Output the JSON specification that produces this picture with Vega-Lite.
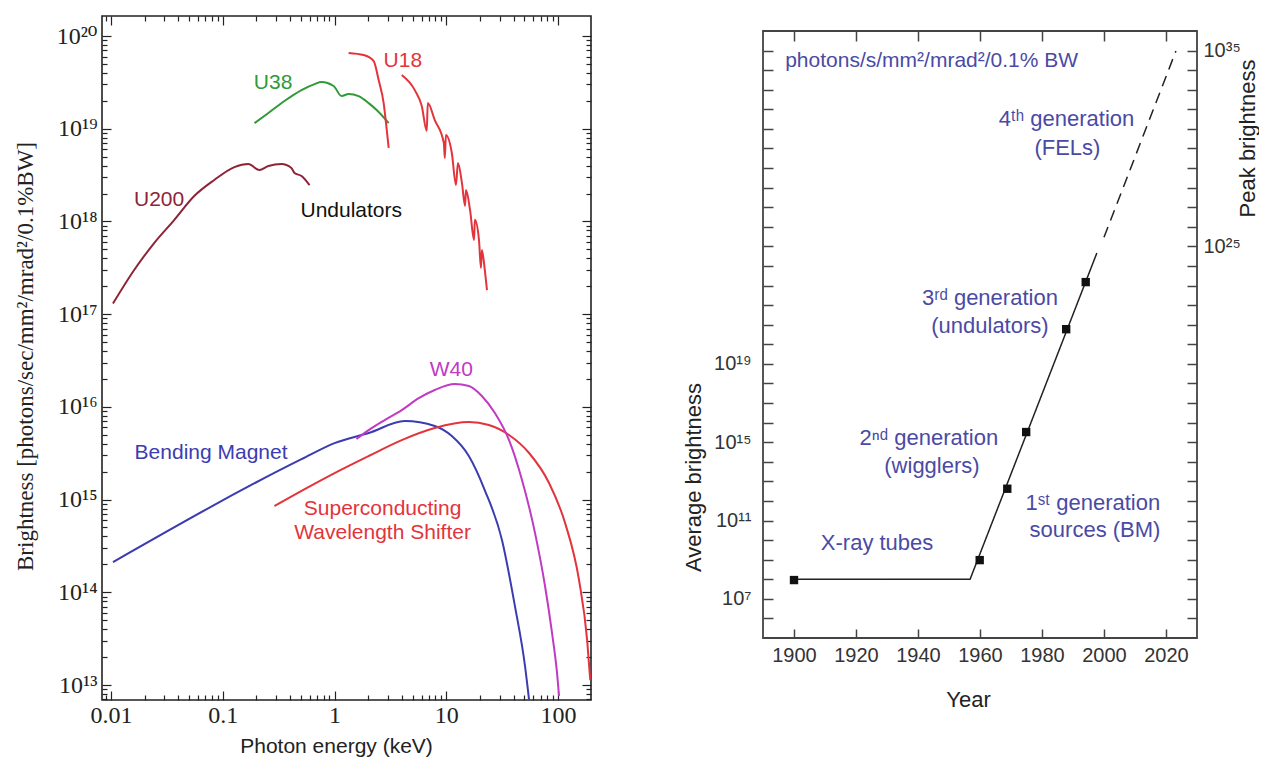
{
  "$schema": "https://vega.github.io/schema/vega-lite/v6.json",
  "background": "white",
  "padding": {"left": 13, "top": 13, "right": 0, "bottom": 0},
  "spacing": 88,
  "datasets": {
    "curves": [
      {"i": 1, "s": "U200", "seg": "U200", "E": 0.0104, "B": 1.3e17},
      {"i": 2, "s": "U200", "seg": "U200", "E": 0.0161, "B": 2.99e17},
      {"i": 3, "s": "U200", "seg": "U200", "E": 0.0243, "B": 5.85e17},
      {"i": 4, "s": "U200", "seg": "U200", "E": 0.0367, "B": 1.035e18},
      {"i": 5, "s": "U200", "seg": "U200", "E": 0.0555, "B": 1.88e18},
      {"i": 6, "s": "U200", "seg": "U200", "E": 0.0839, "B": 2.8e18},
      {"i": 7, "s": "U200", "seg": "U200", "E": 0.127, "B": 3.86e18},
      {"i": 8, "s": "U200", "seg": "U200", "E": 0.169, "B": 4.16e18},
      {"i": 9, "s": "U200", "seg": "U200", "E": 0.2125, "B": 3.58e18},
      {"i": 10, "s": "U200", "seg": "U200", "E": 0.256, "B": 3.96e18},
      {"i": 11, "s": "U200", "seg": "U200", "E": 0.335, "B": 4.16e18},
      {"i": 12, "s": "U200", "seg": "U200", "E": 0.411, "B": 3.77e18},
      {"i": 13, "s": "U200", "seg": "U200", "E": 0.438, "B": 3.33e18},
      {"i": 14, "s": "U200", "seg": "U200", "E": 0.506, "B": 3.09e18},
      {"i": 15, "s": "U200", "seg": "U200", "E": 0.597, "B": 2.47e18},
      {"i": 16, "s": "U38", "seg": "U38", "E": 0.192, "B": 1.15e19},
      {"i": 17, "s": "U38", "seg": "U38", "E": 0.256, "B": 1.48e19},
      {"i": 18, "s": "U38", "seg": "U38", "E": 0.356, "B": 1.99e19},
      {"i": 19, "s": "U38", "seg": "U38", "E": 0.506, "B": 2.61e19},
      {"i": 20, "s": "U38", "seg": "U38", "E": 0.662, "B": 3.03e19},
      {"i": 21, "s": "U38", "seg": "U38", "E": 0.764, "B": 3.19e19},
      {"i": 22, "s": "U38", "seg": "U38", "E": 0.98, "B": 2.89e19},
      {"i": 23, "s": "U38", "seg": "U38", "E": 1.156, "B": 2.25e19},
      {"i": 24, "s": "U38", "seg": "U38", "E": 1.335, "B": 2.37e19},
      {"i": 25, "s": "U38", "seg": "U38", "E": 1.64, "B": 2.25e19},
      {"i": 26, "s": "U38", "seg": "U38", "E": 2.02, "B": 1.89e19},
      {"i": 27, "s": "U38", "seg": "U38", "E": 2.38, "B": 1.59e19},
      {"i": 28, "s": "U38", "seg": "U38", "E": 3.05, "B": 1.15e19},
      {"i": 29, "s": "U18", "seg": "U18a", "E": 1.335, "B": 6.57e19},
      {"i": 30, "s": "U18", "seg": "U18a", "E": 1.82, "B": 6.24e19},
      {"i": 31, "s": "U18", "seg": "U18a", "E": 2.24, "B": 5.37e19},
      {"i": 32, "s": "U18", "seg": "U18a", "E": 2.48, "B": 3.35e19},
      {"i": 33, "s": "U18", "seg": "U18a", "E": 2.75, "B": 1.89e19},
      {"i": 34, "s": "U18", "seg": "U18a", "E": 2.93, "B": 9.7e18},
      {"i": 35, "s": "U18", "seg": "U18a", "E": 3.05, "B": 6.2e18},
      {"i": 36, "s": "U18", "seg": "U18b", "E": 3.99, "B": 3.79e19},
      {"i": 37, "s": "U18", "seg": "U18b", "E": 5.22, "B": 2.61e19},
      {"i": 38, "s": "U18", "seg": "U18b", "E": 6.03, "B": 1.76e19},
      {"i": 39, "s": "U18", "seg": "U18b", "E": 6.68, "B": 9.45e18},
      {"i": 40, "s": "U18", "seg": "U18b", "E": 6.82, "B": 1.89e19},
      {"i": 41, "s": "U18", "seg": "U18b", "E": 7.88, "B": 1.24e19},
      {"i": 42, "s": "U18", "seg": "U18b", "E": 9.5, "B": 7.01e18},
      {"i": 43, "s": "U18", "seg": "U18b", "E": 9.7, "B": 4.83e18},
      {"i": 44, "s": "U18", "seg": "U18b", "E": 9.91, "B": 8.55e18},
      {"i": 45, "s": "U18", "seg": "U18b", "E": 11.2, "B": 5.47e18},
      {"i": 46, "s": "U18", "seg": "U18b", "E": 12.2, "B": 2.47e18},
      {"i": 47, "s": "U18", "seg": "U18b", "E": 12.7, "B": 4.27e18},
      {"i": 48, "s": "U18", "seg": "U18b", "E": 13.8, "B": 2.59e18},
      {"i": 49, "s": "U18", "seg": "U18b", "E": 14.7, "B": 1.47e18},
      {"i": 50, "s": "U18", "seg": "U18b", "E": 15.0, "B": 2.18e18},
      {"i": 51, "s": "U18", "seg": "U18b", "E": 16.3, "B": 1.33e18},
      {"i": 52, "s": "U18", "seg": "U18b", "E": 17.7, "B": 6.3e17},
      {"i": 53, "s": "U18", "seg": "U18b", "E": 18.0, "B": 1.04e18},
      {"i": 54, "s": "U18", "seg": "U18b", "E": 19.6, "B": 6.3e17},
      {"i": 55, "s": "U18", "seg": "U18b", "E": 20.4, "B": 3.14e17},
      {"i": 56, "s": "U18", "seg": "U18b", "E": 20.8, "B": 4.91e17},
      {"i": 57, "s": "U18", "seg": "U18b", "E": 22.1, "B": 2.99e17},
      {"i": 58, "s": "U18", "seg": "U18b", "E": 23.1, "B": 1.82e17},
      {"i": 59, "s": "BM", "seg": "BM", "E": 0.0104, "B": 2.12e14},
      {"i": 60, "s": "BM", "seg": "BM", "E": 0.506, "B": 2.73e15},
      {"i": 61, "s": "BM", "seg": "BM", "E": 1.0, "B": 4.07e15},
      {"i": 62, "s": "BM", "seg": "BM", "E": 2.02, "B": 5.22e15},
      {"i": 63, "s": "BM", "seg": "BM", "E": 4.25, "B": 7.03e15},
      {"i": 64, "s": "BM", "seg": "BM", "E": 7.88, "B": 6.21e15},
      {"i": 65, "s": "BM", "seg": "BM", "E": 11.2, "B": 4.84e15},
      {"i": 66, "s": "BM", "seg": "BM", "E": 15.9, "B": 2.95e15},
      {"i": 67, "s": "BM", "seg": "BM", "E": 22.1, "B": 1.26e15},
      {"i": 68, "s": "BM", "seg": "BM", "E": 31.5, "B": 3.65e14},
      {"i": 69, "s": "BM", "seg": "BM", "E": 41.1, "B": 7.1e13},
      {"i": 70, "s": "BM", "seg": "BM", "E": 50.6, "B": 1.6e13},
      {"i": 71, "s": "BM", "seg": "BM", "E": 55.0, "B": 6.9e12},
      {"i": 72, "s": "SWS", "seg": "SWS", "E": 0.29, "B": 8.51e14},
      {"i": 73, "s": "SWS", "seg": "SWS", "E": 0.506, "B": 1.24e15},
      {"i": 74, "s": "SWS", "seg": "SWS", "E": 1.0, "B": 1.93e15},
      {"i": 75, "s": "SWS", "seg": "SWS", "E": 2.02, "B": 2.95e15},
      {"i": 76, "s": "SWS", "seg": "SWS", "E": 3.99, "B": 4.38e15},
      {"i": 77, "s": "SWS", "seg": "SWS", "E": 7.88, "B": 5.91e15},
      {"i": 78, "s": "SWS", "seg": "SWS", "E": 15.9, "B": 6.85e15},
      {"i": 79, "s": "SWS", "seg": "SWS", "E": 24.0, "B": 6.37e15},
      {"i": 80, "s": "SWS", "seg": "SWS", "E": 36.4, "B": 4.97e15},
      {"i": 81, "s": "SWS", "seg": "SWS", "E": 55.0, "B": 3.18e15},
      {"i": 82, "s": "SWS", "seg": "SWS", "E": 83.0, "B": 1.51e15},
      {"i": 83, "s": "SWS", "seg": "SWS", "E": 115.6, "B": 5.57e14},
      {"i": 84, "s": "SWS", "seg": "SWS", "E": 154, "B": 1.35e14},
      {"i": 85, "s": "SWS", "seg": "SWS", "E": 182, "B": 3.05e13},
      {"i": 86, "s": "SWS", "seg": "SWS", "E": 194, "B": 1.13e13},
      {"i": 87, "s": "W40", "seg": "W40", "E": 1.57, "B": 4.5e15},
      {"i": 88, "s": "W40", "seg": "W40", "E": 2.02, "B": 5.62e15},
      {"i": 89, "s": "W40", "seg": "W40", "E": 2.81, "B": 7.21e15},
      {"i": 90, "s": "W40", "seg": "W40", "E": 3.99, "B": 9.23e15},
      {"i": 91, "s": "W40", "seg": "W40", "E": 5.67, "B": 1.24e16},
      {"i": 92, "s": "W40", "seg": "W40", "E": 7.88, "B": 1.52e16},
      {"i": 93, "s": "W40", "seg": "W40", "E": 11.9, "B": 1.76e16},
      {"i": 94, "s": "W40", "seg": "W40", "E": 15.9, "B": 1.68e16},
      {"i": 95, "s": "W40", "seg": "W40", "E": 20.8, "B": 1.31e16},
      {"i": 96, "s": "W40", "seg": "W40", "E": 27.2, "B": 8.58e15},
      {"i": 97, "s": "W40", "seg": "W40", "E": 36.4, "B": 4.38e15},
      {"i": 98, "s": "W40", "seg": "W40", "E": 47.6, "B": 1.62e15},
      {"i": 99, "s": "W40", "seg": "W40", "E": 62.2, "B": 4.35e14},
      {"i": 100, "s": "W40", "seg": "W40", "E": 76.4, "B": 1.17e14},
      {"i": 101, "s": "W40", "seg": "W40", "E": 88.3, "B": 3.63e13},
      {"i": 102, "s": "W40", "seg": "W40", "E": 97.9, "B": 1.34e13},
      {"i": 103, "s": "W40", "seg": "W40", "E": 102, "B": 7.6e12}
    ],
    "lblL": [
      {"t": "U200", "s": "U200", "E": 0.0269, "B": 1.7e18},
      {"t": "Undulators", "s": "Undulators", "E": 1.41, "B": 1.29e18},
      {"t": "U38", "s": "U38", "E": 0.282, "B": 3.11e19},
      {"t": "U18", "s": "U18", "E": 4.08, "B": 5.37e19},
      {"t": "W40", "s": "W40", "E": 11.1, "B": 2.49e16},
      {"t": "Bending Magnet", "s": "BM", "E": 0.0785, "B": 3.18e15},
      {"t": "Superconducting", "s": "SWS", "E": 2.69, "B": 7.91e14},
      {"t": "Wavelength Shifter", "s": "SWS", "E": 2.69, "B": 4.36e14}
    ],
    "trend": [
      {"year": 1900, "b": 1e8, "seg": "solid"},
      {"year": 1956.8, "b": 1e8, "seg": "solid"},
      {"year": 1997.7, "b": 4.6e24, "seg": "solid"},
      {"year": 2000, "b": 2.9e25, "seg": "dashed"},
      {"year": 2023.2, "b": 9.6e34, "seg": "dashed"}
    ],
    "sq": [
      {"year": 1900, "b": 9.1e7},
      {"year": 1959.9, "b": 9.5e8},
      {"year": 1968.8, "b": 4.2e12},
      {"year": 1974.9, "b": 3.3e15},
      {"year": 1987.8, "b": 5.9e20},
      {"year": 1994.1, "b": 1.5e23}
    ],
    "unit": [
      {"t": "photons/s/mm²/mrad²/0.1% BW", "year": 1944.4, "b": 2.95e34}
    ],
    "lblR": [
      {"t": "4ᵗʰ generation", "year": 1987.9, "b": 3.2e31},
      {"t": "(FELs)", "year": 1988.2, "b": 1.05e30},
      {"t": "3ʳᵈ generation", "year": 1963.2, "b": 2.3e22},
      {"t": "(undulators)", "year": 1963.2, "b": 8.5e20},
      {"t": "2ⁿᵈ generation", "year": 1943.5, "b": 1.7e15},
      {"t": "(wigglers)", "year": 1944.5, "b": 6.0e13},
      {"t": "1ˢᵗ generation", "year": 1996.4, "b": 8.1e11},
      {"t": "sources (BM)", "year": 1997.1, "b": 3.2e10},
      {"t": "X-ray tubes", "year": 1926.8, "b": 7.1e9}
    ],
    "blank": [{"k": 1}]
  },
  "hconcat": [
    {
      "width": 489,
      "height": 684,
      "view": {"stroke": "#222", "strokeWidth": 1.6},
      "layer": [
        {
          "data": {"name": "curves"},
          "mark": {"type": "line", "strokeWidth": 2, "clip": true, "interpolate": "monotone"},
          "encoding": {
            "x": {"field": "E", "type": "quantitative",
              "scale": {"type": "log", "domain": [0.0083, 197], "nice": false},
              "axis": {"orient": "bottom", "values": [0.01, 0.1, 1, 10, 100], "labelExpr": "'' + datum.value",
                "ticks": false, "domain": false, "grid": false, "labelFont": "Liberation Serif, DejaVu Serif", "labelFontSize": 24,
                "labelColor": "#222", "labelPadding": 3, "labelOverlap": false, "labelFlush": false,
                "title": "Photon energy (keV)", "titleFont": "Liberation Sans", "titleFontSize": 21, "titleFontWeight": "normal",
                "titleColor": "#222", "titleX": 234, "titleY": 46, "titleBaseline": "middle", "titleAlign": "center", "titleLimit": 400}},
            "y": {"field": "B", "type": "quantitative",
              "scale": {"type": "log", "domain": [6.89e12, 1.644e20], "nice": false},
              "axis": {"orient": "left", "values": [1e13, 1e14, 1e15, 1e16, 1e17, 1e18, 1e19, 1e20],
                "labelExpr": "'10' + (round(log(datum.value)/LN10) >= 10 ? substring('⁰¹²³⁴⁵⁶⁷⁸⁹', floor(round(log(datum.value)/LN10)/10), floor(round(log(datum.value)/LN10)/10) + 1) : '') + substring('⁰¹²³⁴⁵⁶⁷⁸⁹', round(log(datum.value)/LN10) % 10, round(log(datum.value)/LN10) % 10 + 1)",
                "ticks": false, "domain": false, "grid": false, "labelFont": "Liberation Serif, DejaVu Serif", "labelFontSize": 24,
                "labelColor": "#222", "labelPadding": 5, "labelOverlap": false, "labelFlush": false,
                "title": "Brightness [photons/sec/mm²/mrad²/0.1%BW]", "titleFont": "Liberation Serif", "titleFontSize": 23,
                "titleFontWeight": "normal", "titleColor": "#222", "titleX": -77, "titleY": 340, "titleAngle": 270,
                "titleBaseline": "middle", "titleAlign": "center", "titleLimit": 700}},
            "color": {"field": "s", "type": "nominal",
              "scale": {"domain": ["U200", "U38", "U18", "BM", "W40", "SWS", "Undulators"],
                "range": ["#8e2437", "#2f9a36", "#e3343c", "#3c3cb0", "#c03ac4", "#e3343c", "#111111"]},
              "legend": null},
            "detail": {"field": "seg"},
            "order": {"field": "i", "type": "quantitative"}
          }
        },
        {
          "data": {"name": "lblL"},
          "mark": {"type": "text", "fontSize": 21, "font": "Liberation Sans"},
          "encoding": {
            "x": {"field": "E", "type": "quantitative",
              "axis": {"orient": "bottom", "values": [0.01, 0.1, 1, 10, 100], "labels": false, "ticks": true,
                "tickSize": -9, "tickColor": "#222", "tickWidth": 1.2, "domain": false, "grid": false, "title": null}},
            "y": {"field": "B", "type": "quantitative",
              "axis": {"orient": "left", "values": [1e13, 1e14, 1e15, 1e16, 1e17, 1e18, 1e19, 1e20], "labels": false,
                "ticks": true, "tickSize": -9, "tickColor": "#222", "tickWidth": 1.2, "domain": false, "grid": false, "title": null}},
            "text": {"field": "t"},
            "color": {"field": "s", "type": "nominal", "legend": null}
          }
        },
        {
          "data": {"name": "lblL"},
          "mark": {"type": "point", "opacity": 0},
          "encoding": {
            "x": {"field": "E", "type": "quantitative",
              "axis": {"orient": "bottom", "values": [0.009, 0.02, 0.03, 0.04, 0.05, 0.06, 0.07, 0.08, 0.09, 0.2, 0.3, 0.4, 0.5, 0.6, 0.7, 0.8, 0.9, 2, 3, 4, 5, 6, 7, 8, 9, 20, 30, 40, 50, 60, 70, 80, 90],
                "labels": false, "ticks": true, "tickSize": -5, "tickColor": "#222", "tickWidth": 1.2, "domain": false, "grid": false, "title": null}},
            "y": {"field": "B", "type": "quantitative",
              "axis": {"orient": "left", "values": [7e12, 8e12, 9e12, 2e13, 3e13, 4e13, 5e13, 6e13, 7e13, 8e13, 9e13, 2e14, 3e14, 4e14, 5e14, 6e14, 7e14, 8e14, 9e14, 2e15, 3e15, 4e15, 5e15, 6e15, 7e15, 8e15, 9e15, 2e16, 3e16, 4e16, 5e16, 6e16, 7e16, 8e16, 9e16, 2e17, 3e17, 4e17, 5e17, 6e17, 7e17, 8e17, 9e17, 2e18, 3e18, 4e18, 5e18, 6e18, 7e18, 8e18, 9e18, 2e19, 3e19, 4e19, 5e19, 6e19, 7e19, 8e19, 9e19],
                "labels": false, "ticks": true, "tickSize": -5, "tickColor": "#222", "tickWidth": 1.2, "domain": false, "grid": false, "title": null}}
          }
        },
        {
          "data": {"name": "lblL"},
          "mark": {"type": "point", "opacity": 0},
          "encoding": {
            "x": {"field": "E", "type": "quantitative",
              "axis": {"orient": "top", "values": [0.01, 0.1, 1, 10, 100], "labels": false, "ticks": true,
                "tickSize": -9, "tickColor": "#222", "tickWidth": 1.2, "domain": false, "grid": false, "title": null}},
            "y": {"field": "B", "type": "quantitative",
              "axis": {"orient": "right", "values": [1e13, 1e14, 1e15, 1e16, 1e17, 1e18, 1e19, 1e20], "labels": false,
                "ticks": true, "tickSize": -9, "tickColor": "#222", "tickWidth": 1.2, "domain": false, "grid": false, "title": null}}
          }
        },
        {
          "data": {"name": "lblL"},
          "mark": {"type": "point", "opacity": 0},
          "encoding": {
            "x": {"field": "E", "type": "quantitative",
              "axis": {"orient": "top", "values": [0.009, 0.02, 0.03, 0.04, 0.05, 0.06, 0.07, 0.08, 0.09, 0.2, 0.3, 0.4, 0.5, 0.6, 0.7, 0.8, 0.9, 2, 3, 4, 5, 6, 7, 8, 9, 20, 30, 40, 50, 60, 70, 80, 90],
                "labels": false, "ticks": true, "tickSize": -5, "tickColor": "#222", "tickWidth": 1.2, "domain": false, "grid": false, "title": null}},
            "y": {"field": "B", "type": "quantitative",
              "axis": {"orient": "right", "values": [7e12, 8e12, 9e12, 2e13, 3e13, 4e13, 5e13, 6e13, 7e13, 8e13, 9e13, 2e14, 3e14, 4e14, 5e14, 6e14, 7e14, 8e14, 9e14, 2e15, 3e15, 4e15, 5e15, 6e15, 7e15, 8e15, 9e15, 2e16, 3e16, 4e16, 5e16, 6e16, 7e16, 8e16, 9e16, 2e17, 3e17, 4e17, 5e17, 6e17, 7e17, 8e17, 9e17, 2e18, 3e18, 4e18, 5e18, 6e18, 7e18, 8e18, 9e18, 2e19, 3e19, 4e19, 5e19, 6e19, 7e19, 8e19, 9e19],
                "labels": false, "ticks": true, "tickSize": -5, "tickColor": "#222", "tickWidth": 1.2, "domain": false, "grid": false, "title": null}}
          }
        }
      ],
      "resolve": {"axis": {"x": "independent", "y": "independent"}}
    },
    {
      "spacing": 9,
      "vconcat": [
        {
          "width": 434,
          "height": 1,
          "data": {"name": "blank"},
          "mark": {"type": "point", "opacity": 0},
          "view": {"stroke": null}
        },
        {
          "width": 434,
          "height": 607,
          "view": {"stroke": "#444", "strokeWidth": 1.8},
          "layer": [
            {
              "data": {"name": "trend"},
              "mark": {"type": "line", "color": "#222", "strokeWidth": 1.5},
              "encoding": {
                "x": {"field": "year", "type": "quantitative",
                  "scale": {"domain": [1890, 2030], "nice": false, "zero": false},
                  "axis": {"orient": "bottom", "values": [1900, 1920, 1940, 1960, 1980, 2000, 2020], "format": "d",
                    "ticks": false, "domain": false, "grid": false, "labelFont": "Liberation Sans", "labelFontSize": 20,
                    "labelColor": "#333", "labelPadding": 7, "labelOverlap": false, "labelFlush": false,
                    "title": "Year", "titleFont": "Liberation Sans", "titleFontSize": 22, "titleFontWeight": "normal",
                    "titleColor": "#222", "titleX": 205, "titleY": 61, "titleBaseline": "middle", "titleAlign": "center"}},
                "y": {"field": "b", "type": "quantitative",
                  "scale": {"type": "log", "domain": [1e5, 1e36], "nice": false},
                  "axis": {"orient": "left", "values": [1e7, 1e11, 1e15, 1e19],
                    "labelExpr": "'10' + (round(log(datum.value)/LN10) >= 10 ? substring('⁰¹²³⁴⁵⁶⁷⁸⁹', floor(round(log(datum.value)/LN10)/10), floor(round(log(datum.value)/LN10)/10) + 1) : '') + substring('⁰¹²³⁴⁵⁶⁷⁸⁹', round(log(datum.value)/LN10) % 10, round(log(datum.value)/LN10) % 10 + 1)",
                    "ticks": false, "domain": false, "grid": false, "labelFont": "Liberation Sans", "labelFontSize": 20,
                    "labelColor": "#333", "labelPadding": 12, "labelOverlap": false, "labelFlush": false,
                    "title": "Average brightness", "titleFont": "Liberation Sans", "titleFontSize": 22, "titleFontWeight": "normal",
                    "titleColor": "#222", "titleX": -70, "titleY": 446, "titleAngle": 270, "titleBaseline": "middle", "titleAlign": "center"}},
                "strokeDash": {"field": "seg", "type": "nominal",
                  "scale": {"domain": ["solid", "dashed"], "range": [[1, 0], [11, 7]]}, "legend": null}
              }
            },
            {
              "data": {"name": "sq"},
              "mark": {"type": "point", "shape": "square", "filled": true, "color": "#111", "size": 70, "opacity": 1},
              "encoding": {
                "x": {"field": "year", "type": "quantitative",
                  "axis": {"orient": "bottom", "values": [1900, 1920, 1940, 1960, 1980, 2000, 2020], "labels": false, "ticks": true,
                    "tickSize": -9, "tickColor": "#444", "tickWidth": 1.5, "domain": false, "grid": false, "title": null}},
                "y": {"field": "b", "type": "quantitative",
                  "axis": {"orient": "left", "values": [1e6, 1e7, 1e8, 1e9, 1e10, 1e11, 1e12, 1e13, 1e14, 1e15, 1e16, 1e17, 1e18, 1e19, 1e20, 1e21, 1e22, 1e23, 1e24, 1e25, 1e26, 1e27, 1e28, 1e29, 1e30, 1e31, 1e32, 1e33, 1e34, 1e35],
                    "labels": false, "ticks": true, "tickSize": -10, "tickColor": "#444", "tickWidth": 1.5, "domain": false, "grid": false, "title": null}}
              }
            },
            {
              "data": {"name": "unit"},
              "mark": {"type": "text", "fontSize": 21, "color": "#4a4aa5", "font": "Liberation Sans"},
              "encoding": {
                "x": {"field": "year", "type": "quantitative",
                  "axis": {"orient": "top", "values": [1900, 1920, 1940, 1960, 1980, 2000, 2020], "labels": false, "ticks": true,
                    "tickSize": -10, "tickColor": "#444", "tickWidth": 1.5, "domain": false, "grid": false, "title": null}},
                "y": {"field": "b", "type": "quantitative",
                  "axis": {"orient": "right", "values": [1e6, 1e7, 1e8, 1e9, 1e10, 1e11, 1e12, 1e13, 1e14, 1e15, 1e16, 1e17, 1e18, 1e19, 1e20, 1e21, 1e22, 1e23, 1e24, 1e25, 1e26, 1e27, 1e28, 1e29, 1e30, 1e31, 1e32, 1e33, 1e34, 1e35],
                    "labels": false, "ticks": true, "tickSize": -10, "tickColor": "#444", "tickWidth": 1.5, "domain": false, "grid": false, "title": null}},
                "text": {"field": "t"}
              }
            },
            {
              "data": {"name": "lblR"},
              "mark": {"type": "text", "fontSize": 22, "color": "#4a4aa5", "font": "Liberation Sans"},
              "encoding": {
                "x": {"field": "year", "type": "quantitative", "axis": null},
                "y": {"field": "b", "type": "quantitative",
                  "axis": {"orient": "right", "values": [1e25, 1e35],
                    "labelExpr": "'10' + (round(log(datum.value)/LN10) >= 10 ? substring('⁰¹²³⁴⁵⁶⁷⁸⁹', floor(round(log(datum.value)/LN10)/10), floor(round(log(datum.value)/LN10)/10) + 1) : '') + substring('⁰¹²³⁴⁵⁶⁷⁸⁹', round(log(datum.value)/LN10) % 10, round(log(datum.value)/LN10) % 10 + 1)",
                    "ticks": false, "domain": false, "grid": false, "labelFont": "Liberation Sans", "labelFontSize": 20,
                    "labelColor": "#333", "labelPadding": 6, "labelOverlap": false, "labelFlush": false,
                    "title": "Peak brightness", "titleFont": "Liberation Sans", "titleFontSize": 22, "titleFontWeight": "normal",
                    "titleColor": "#222", "titleX": 50, "titleY": 107, "titleAngle": 270, "titleBaseline": "middle", "titleAlign": "center"}},
                "text": {"field": "t"}
              }
            }
          ],
          "resolve": {"axis": {"x": "independent", "y": "independent"}}
        }
      ]
    }
  ],
  "config": {
    "font": "Liberation Sans",
    "axis": {"titleFontWeight": "normal", "grid": false, "domain": false},
    "title": {"font": "Liberation Sans"},
    "text": {"font": "Liberation Sans"}
  }
}
